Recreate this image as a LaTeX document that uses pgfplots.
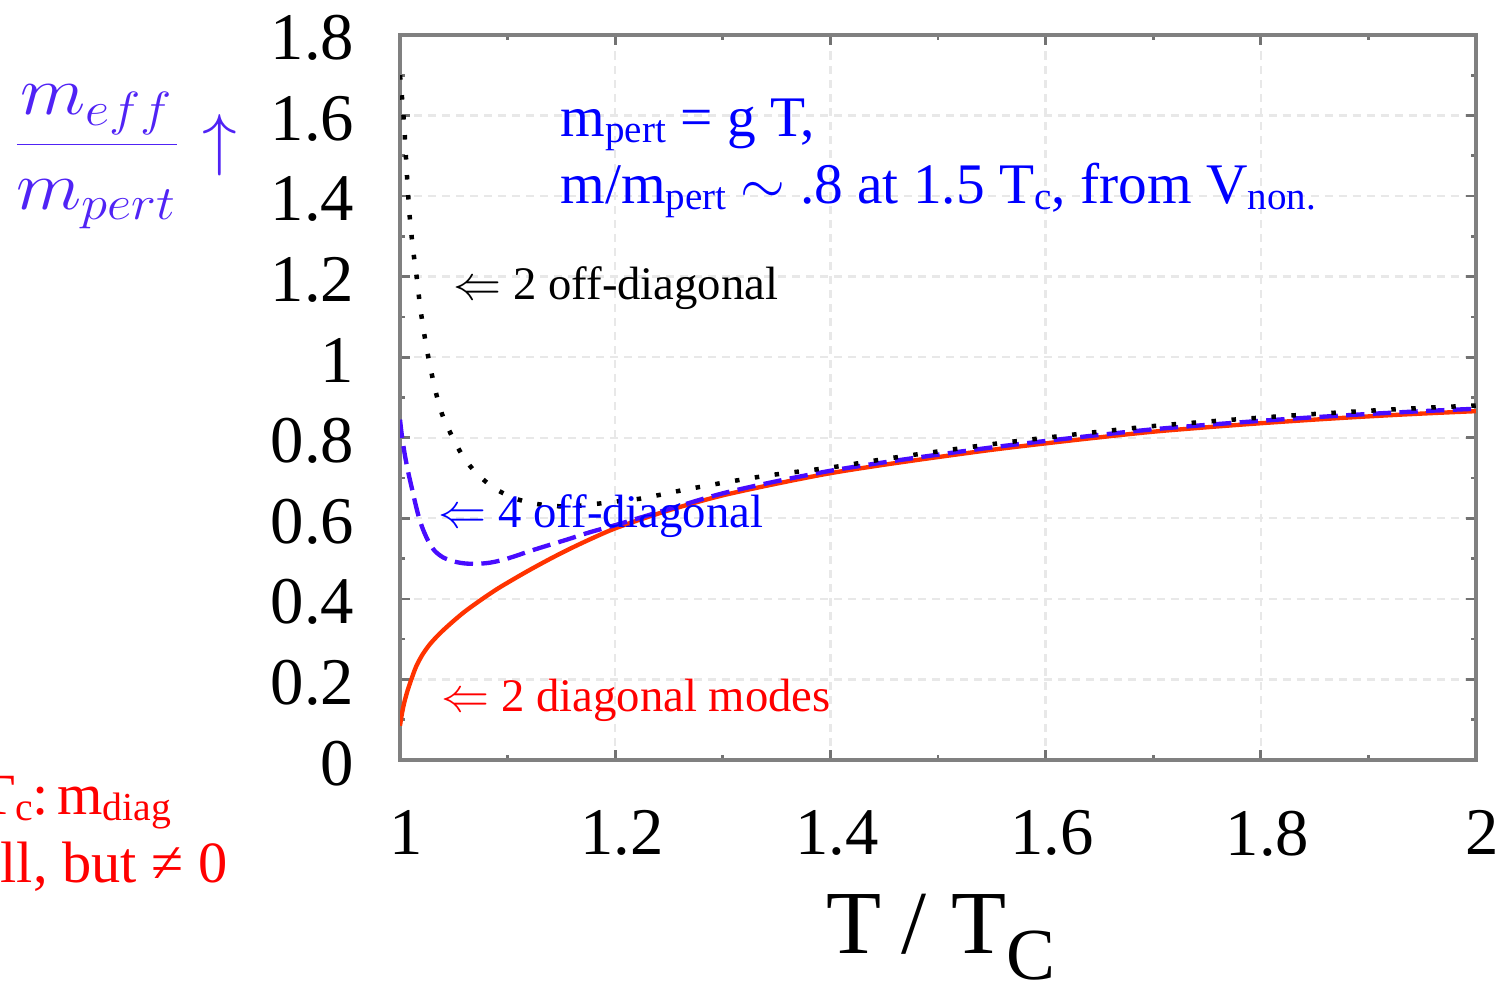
\documentclass[border=0pt]{standalone}
\usepackage{fontspec}
\setmainfont{Liberation Serif}
\usepackage{graphicx}
\usepackage{pgfplots}
\pgfplotsset{compat=1.18}

\definecolor{curvered}{RGB}{255,51,0}
\definecolor{curveblue}{RGB}{72,12,255}
\definecolor{labelviolet}{RGB}{80,35,245}
\definecolor{notered}{RGB}{255,0,0}
\definecolor{noteblue}{RGB}{0,0,255}

% small lowered text for subscripts inside running text
\newcommand\sub[1]{\raisebox{-0.22ex}{\scalebox{0.68}{#1}}}

\begin{document}
\begin{tikzpicture}
\path[use as bounding box] (0,0) rectangle (450pt,294.4pt);
\begin{axis}[
  at={(119.92pt,66.56pt)}, anchor=south west,
  scale only axis, width=322.58pt, height=217.36pt,
  xmin=1, xmax=2, ymin=0, ymax=1.8,
  xtick={1,1.2,1.4,1.6,1.8,2},
  ytick={0,0.2,0.4,0.6,0.8,1,1.2,1.4,1.6,1.8},
  minor x tick num=1, minor y tick num=1,
  tick align=inside,
  major tick length=3pt, minor tick length=1.6pt,
  tick style={black!55, line width=0.8pt},
  axis line style={black!50, line width=1.4pt},
  grid=major,
  major grid style={black!9, dash pattern=on 2.4pt off 1.8pt, line width=0.7pt},
  /pgf/number format/assume math mode=true,
  tick label style={font=\fontsize{20}{24}\selectfont, black},
  yticklabel style={anchor=east, inner sep=0pt, xshift=-13.5pt, yshift=-1pt},
  xticklabel style={anchor=north, inner sep=0pt, yshift=-15pt, xshift=2pt},
]
% 2 diagonal modes
\addplot[curvered, line width=1.3pt, smooth] coordinates {
(1.000,0.085) (1.002,0.118) (1.004,0.143) (1.007,0.172) (1.010,0.196)
(1.015,0.232) (1.021,0.262) (1.028,0.288) (1.037,0.314) (1.048,0.341)
(1.060,0.368) (1.075,0.397) (1.090,0.424) (1.105,0.448) (1.120,0.471)
(1.140,0.500) (1.160,0.527) (1.180,0.552) (1.200,0.575) (1.230,0.603)
(1.260,0.628) (1.300,0.657) (1.350,0.686) (1.400,0.712) (1.450,0.733)
(1.500,0.752) (1.550,0.770) (1.600,0.786) (1.650,0.801) (1.700,0.815)
(1.750,0.826) (1.800,0.836) (1.850,0.845) (1.900,0.853) (1.950,0.860)
(2.000,0.866)
};
% 4 off-diagonal modes
\addplot[curveblue, line width=1.3pt, smooth, dash pattern=on 5.5pt off 2.5pt] coordinates {
(1.000,0.845) (1.002,0.80) (1.005,0.75) (1.008,0.71) (1.011,0.675)
(1.014,0.64) (1.017,0.608) (1.021,0.575) (1.026,0.545) (1.032,0.52)
(1.040,0.503) (1.050,0.493) (1.060,0.488) (1.072,0.487) (1.084,0.490)
(1.096,0.497) (1.108,0.507) (1.120,0.518) (1.133,0.529) (1.155,0.547)
(1.176,0.565) (1.200,0.583) (1.230,0.607) (1.260,0.631) (1.300,0.662)
(1.350,0.692) (1.400,0.718) (1.450,0.739) (1.500,0.758) (1.550,0.776)
(1.600,0.792) (1.650,0.807) (1.700,0.821) (1.750,0.832) (1.800,0.842)
(1.850,0.851) (1.900,0.859) (1.950,0.866) (2.000,0.872)
};
% 2 off-diagonal modes
\addplot[black, line width=1.35pt, smooth, dash pattern=on 1.35pt off 4.65pt] coordinates {
(1.000,1.70) (1.002,1.64) (1.004,1.57) (1.0065,1.45) (1.009,1.35)
(1.012,1.27) (1.015,1.21) (1.019,1.12) (1.023,1.05) (1.027,0.99)
(1.031,0.94) (1.035,0.895) (1.040,0.852) (1.049,0.800) (1.059,0.752)
(1.071,0.712) (1.087,0.676) (1.105,0.651) (1.124,0.637) (1.146,0.630)
(1.165,0.631) (1.183,0.636) (1.205,0.643) (1.226,0.650) (1.263,0.670)
(1.304,0.690) (1.344,0.707) (1.400,0.726) (1.450,0.747) (1.500,0.766)
(1.550,0.784) (1.600,0.800) (1.650,0.815) (1.700,0.829) (1.750,0.840)
(1.800,0.850) (1.850,0.859) (1.900,0.867) (1.950,0.874) (2.000,0.880)
};
\end{axis}

\begin{scope}[x=0.2998pt, y=0.2998pt, every node/.style={inner sep=0pt}]
% notes inside the frame
\node[anchor=base west, noteblue, font=\fontsize{17.2}{20}\selectfont] at (560,845)
  {m\sub{pert} = g T,};
\node[anchor=base west, noteblue, font=\fontsize{17.2}{20}\selectfont] at (560,778)
  {m/m\sub{pert} $\sim$ .8 at 1.5 T\sub{c}, from V\sub{non.}};
\node[anchor=base west, black, font=\fontsize{14}{17}\selectfont] at (453,682)
  {$\Leftarrow$ 2 off-diagonal};
\node[anchor=base west, noteblue, font=\fontsize{14}{17}\selectfont] at (438,454)
  {$\Leftarrow$ 4 off-diagonal};
\node[anchor=base west, notered, font=\fontsize{14}{17}\selectfont] at (441,270)
  {$\Leftarrow$ 2 diagonal modes};
% axis title below
\node[anchor=base west, black, font=\fontsize{27}{30}\selectfont] at (826,28)
  {T\hspace{0.22em}/\hspace{0.28em}T\raisebox{-7.5pt}{\fontsize{22}{22}\selectfont C}};
% quantity on the left
\node[labelviolet, font=\fontsize{21}{25}\selectfont] at (97,825)
  {\scalebox{1.1}[1]{$\displaystyle\frac{m_{eff}}{m_{pert}}$}};
\node[labelviolet, font=\fontsize{22}{26}\selectfont] at (220,837) {$\uparrow$};
% remark near the critical temperature
\node[anchor=base east, notered, font=\fontsize{17.5}{21}\selectfont] at (172,167)
  {Near T\sub{c}:\hspace{0.15em}m\sub{diag}};
\node[anchor=base east, notered, font=\fontsize{17.5}{21}\selectfont] at (228,99)
  {small, but ≠ 0};
\end{scope}
\end{tikzpicture}
\end{document}
